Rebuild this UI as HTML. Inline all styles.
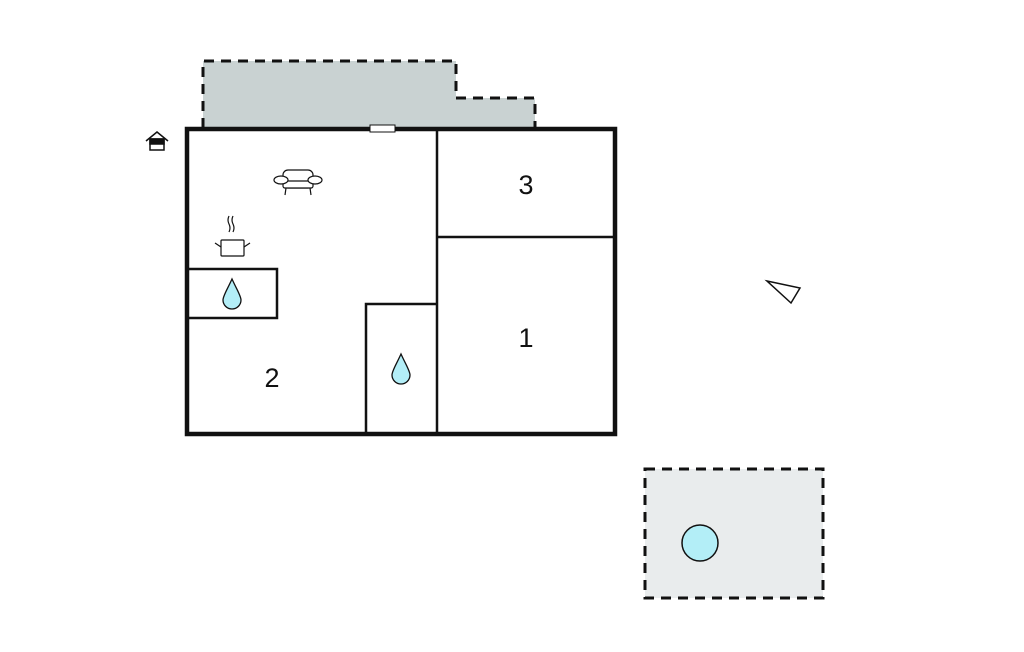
<!DOCTYPE html>
<html><head><meta charset="utf-8"><style>html,body{margin:0;padding:0;background:#fff}svg{display:block}</style></head><body>
<svg width="1024" height="652" viewBox="0 0 1024 652" xmlns="http://www.w3.org/2000/svg">
<!-- terrace -->
<path d="M203,128 L203,61 L456,61 L456,98 L535,98 L535,128 Z" fill="#c9d2d2"/>
<path d="M203,128 L203,61 L456,61 L456,98 L535,98 L535,128" fill="none" stroke="#111" stroke-width="3" stroke-dasharray="10,7"/>
<!-- pool area -->
<rect x="645" y="469" width="178" height="129" fill="#e9eced" stroke="#111" stroke-width="3" stroke-dasharray="10,7"/>
<circle cx="700" cy="543" r="18" fill="#b3eef7" stroke="#111" stroke-width="1.5"/>
<!-- house -->
<rect x="187" y="129" width="428" height="305" fill="#fff" stroke="#111" stroke-width="4.5"/>
<line x1="437" y1="129" x2="437" y2="434" stroke="#111" stroke-width="2.5"/>
<line x1="437" y1="237" x2="615" y2="237" stroke="#111" stroke-width="2.5"/>
<path d="M366,434 L366,304 L437,304" fill="none" stroke="#111" stroke-width="2.5"/>
<path d="M188,269 L277,269 L277,318 L188,318" fill="none" stroke="#111" stroke-width="2.5"/>
<rect x="370" y="125" width="25" height="7" fill="#fff" stroke="#111" stroke-width="1"/>
<!-- drops -->
<path d="M232,279 C227,290 223,296 223,300 A9,9 0 0 0 241,300 C241,296 237,290 232,279 Z" fill="#b3eef7" stroke="#111" stroke-width="1.3"/>
<path d="M401,354 C396,365 392,371 392,375 A9,9 0 0 0 410,375 C410,371 406,365 401,354 Z" fill="#b3eef7" stroke="#111" stroke-width="1.3"/>
<!-- sofa -->
<g fill="#fff" stroke="#111" stroke-width="1.2">
<rect x="283" y="170" width="30" height="18" rx="5"/>
<rect x="283" y="181" width="30" height="7" rx="2"/>
<ellipse cx="281" cy="180" rx="7" ry="4"/>
<ellipse cx="315" cy="180" rx="7" ry="4"/>
<line x1="286" y1="188" x2="285" y2="195"/><line x1="310" y1="188" x2="311" y2="195"/>
</g>
<!-- pot -->
<g fill="none" stroke="#111" stroke-width="1.2">
<rect x="221" y="240" width="23" height="16" fill="#fff" rx="1"/>
<path d="M215,243 L221,247 M250,243 L244,247"/>
<path d="M229,216 q-2,4 0,8 q2,4 0,8 M233,216 q-2,4 0,8 q2,4 0,8"/>
</g>
<!-- entrance icon -->
<g stroke="#111" fill="none" stroke-width="1.5">
<path d="M146,141 L157,132 L168,141"/>
<rect x="150" y="139" width="14" height="11" fill="#fff"/>
<rect x="150" y="139" width="14" height="5" fill="#111"/>
</g>
<!-- compass -->
<polygon points="767,281 800,288 791,303" fill="#fff" stroke="#111" stroke-width="1.5"/>
<!-- labels -->
<g font-family="Liberation Sans, sans-serif" font-size="27" fill="#111" text-anchor="middle">
<text x="526" y="194">3</text>
<text x="526" y="347">1</text>
<text x="272" y="387">2</text>
</g>
</svg>
</body></html>
